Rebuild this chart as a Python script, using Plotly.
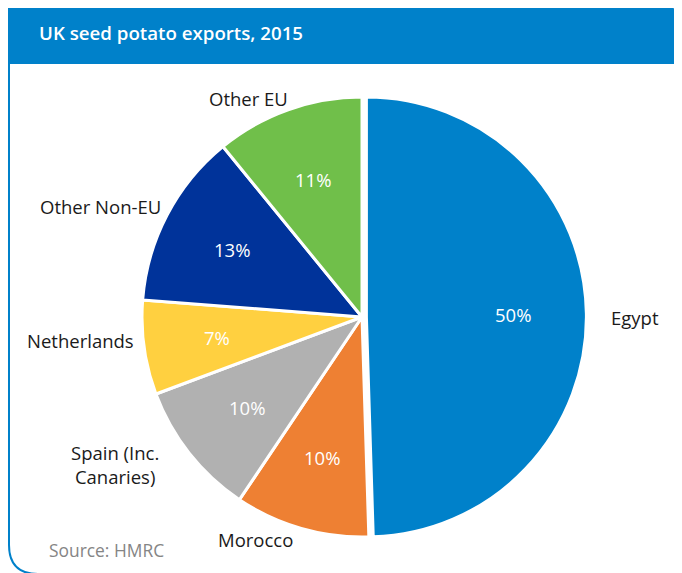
import math
import plotly.graph_objects as go

countries = ["Egypt", "Morocco", "Spain (Inc. Canaries)", "Netherlands", "Other Non-EU", "Other EU"]
shares = [50, 10, 10, 7, 13, 11]
pct_labels = ["50%", "10%", "10%", "7%", "13%", "11%"]
colors = ["#0081CA", "#EE8033", "#B1B1B1", "#FFD040", "#00339A", "#70BF4A"]
pulls = [0.02, 0, 0, 0, 0, 0]

# the page body has an 8px margin; work in screen pixels and convert
OFF = 8
W, H = 674, 565


def xp(px):
    return (px - OFF) / W


def yp(py):
    return 1 - (py - OFF) / H


cx, cy, r = 362, 317, 220
half = r * (1 + max(pulls))

fig = go.Figure(go.Pie(
    labels=countries, values=shares, text=pct_labels,
    sort=False, direction="clockwise", rotation=0,
    pull=pulls,
    marker=dict(colors=colors, line=dict(color="white", width=3)),
    textinfo="none",
    hoverinfo="label+text",
    domain=dict(x=[xp(cx - half), xp(cx + half)],
                y=[yp(cy + half), yp(cy - half)]),
    showlegend=False,
))

annotations = []
# percentage labels along each slice bisector
total = sum(shares)
cum = 0
for v, t, p in zip(shares, pct_labels, pulls):
    mid = (cum + v / 2) / total * 2 * math.pi
    cum += v
    d = r * (0.665 + p)
    annotations.append(dict(
        x=xp(cx + d * math.sin(mid)), y=yp(cy - d * math.cos(mid)),
        xref="paper", yref="paper", text=t, showarrow=False,
        xanchor="center", yanchor="middle",
        font=dict(family="Open Sans", size=18.5, color="white"),
    ))

# category labels (screen pixel positions)
label_pos = {
    "Egypt": (609, 317, "left"),
    "Morocco": (255, 539, "center"),
    "Spain (Inc. Canaries)": (115, 464, "center"),
    "Netherlands": (80, 340, "center"),
    "Other Non-EU": (100, 207, "center"),
    "Other EU": (248, 99, "center"),
}
label_text = {"Spain (Inc. Canaries)": "Spain (Inc.<br>Canaries)"}
for name in countries:
    px, py, anc = label_pos[name]
    annotations.append(dict(
        x=xp(px), y=yp(py), xref="paper", yref="paper",
        text=label_text.get(name, name), showarrow=False,
        xanchor=anc, yanchor="middle", align="center",
        font=dict(family="Open Sans", size=18.5, color="#1a1a1a"),
    ))

annotations.append(dict(
    x=xp(37), y=yp(33), xref="paper", yref="paper",
    text="UK seed potato exports, 2015", showarrow=False,
    xanchor="left", yanchor="middle",
    font=dict(family="Open Sans", size=18.7, color="white", weight=600),
))
annotations.append(dict(
    x=xp(47), y=yp(550), xref="paper", yref="paper",
    text="Source: HMRC", showarrow=False,
    xanchor="left", yanchor="middle",
    font=dict(family="Open Sans", size=17.4, color="#858585"),
))

shapes = [
    dict(type="path", xref="paper", yref="paper", layer="below",
         path=f"M {xp(5)},{yp(5)} L {xp(660)},{yp(5)} Q {xp(682)},{yp(5)} {xp(682)},{yp(27)} "
              f"L {xp(684)},{yp(27)} L {xp(684)},{yp(64)} L {xp(5)},{yp(64)} Z",
         fillcolor="#0081CA", line=dict(width=0)),
    dict(type="path", xref="paper", yref="paper", layer="below",
         path=f"M {xp(9)},{yp(64)} L {xp(9)},{yp(545)} Q {xp(9)},{yp(574)} {xp(38)},{yp(574)} L {xp(684)},{yp(574)}",
         line=dict(color="#0081CA", width=2)),
]

fig.update_layout(
    width=W, height=H,
    margin=dict(l=0, r=0, t=0, b=0),
    paper_bgcolor="white", plot_bgcolor="white",
    annotations=annotations, shapes=shapes,
)
fig.write_html("out.html")
